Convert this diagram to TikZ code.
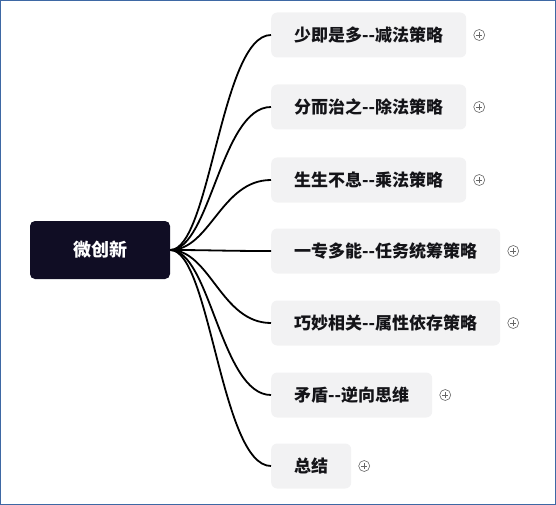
\documentclass[tikz,border=0pt]{standalone}
\usepackage{fontspec}
\setmainfont{Noto Sans CJK SC}
\usepackage{tikz}
\usetikzlibrary{positioning, calc}
\usepackage{xcolor}
\definecolor{mindnavy}{RGB}{16,13,36}
\definecolor{mindleaf}{RGB}{242,242,243}
\definecolor{mindframe}{RGB}{62,104,164}
\definecolor{mindtext}{RGB}{20,20,24}

\begin{document}
\begin{tikzpicture}[x=1pt, y=-1pt,
  rootbox/.style={rectangle, rounded corners=5pt, fill=mindnavy, text=white,
    minimum width=140pt, minimum height=58pt, font=\fontsize{18}{20}\selectfont\bfseries},
  leafbox/.style={rectangle, rounded corners=6pt, fill=mindleaf, text=mindtext,
    anchor=west, inner xsep=23pt, minimum height=45pt, font=\fontsize{17}{20}\selectfont\bfseries},
  branch/.style={line width=1.8pt, black},
  expander/.style={circle, draw=gray!80!black, line width=0.6pt, minimum size=11pt, inner sep=0pt,
    path picture={\draw[gray!80!black, line width=0.6pt]
      ($(path picture bounding box.west)+(2.5pt,0)$) -- ($(path picture bounding box.east)+(-2.5pt,0)$)
      ($(path picture bounding box.north)+(0,-2.5pt)$) -- ($(path picture bounding box.south)+(0,2.5pt)$);}}
]
\useasboundingbox (0,0) rectangle (556,505);
\draw[mindframe, line width=1.2pt] (0.6,0.6) rectangle (555.4,504.4);

\node[rootbox] (root) at (100,250) {微创新};

\node[leafbox] (sub) at (271,35) {少即是多-{}-减法策略};
\node[leafbox] (div) at (271,107) {分而治之-{}-除法策略};
\node[leafbox] (mul) at (271,180) {生生不息-{}-乘法策略};
\node[leafbox] (task) at (271,251) {一专多能-{}-任务统筹策略};
\node[leafbox] (attr) at (271,323) {巧妙相关-{}-属性依存策略};
\node[leafbox] (contra) at (271,395) {矛盾-{}-逆向思维};
\node[leafbox] (summ) at (271,466) {总结};

\foreach \leaf in {sub,div,mul,task,attr,contra,summ}{
  \draw[branch] (root.east) .. controls +(40,0) and +(-50,0) .. (\leaf.west);
  \node[expander, right=7pt of \leaf] (\leaf-plus) {};
}
\end{tikzpicture}
\end{document}
